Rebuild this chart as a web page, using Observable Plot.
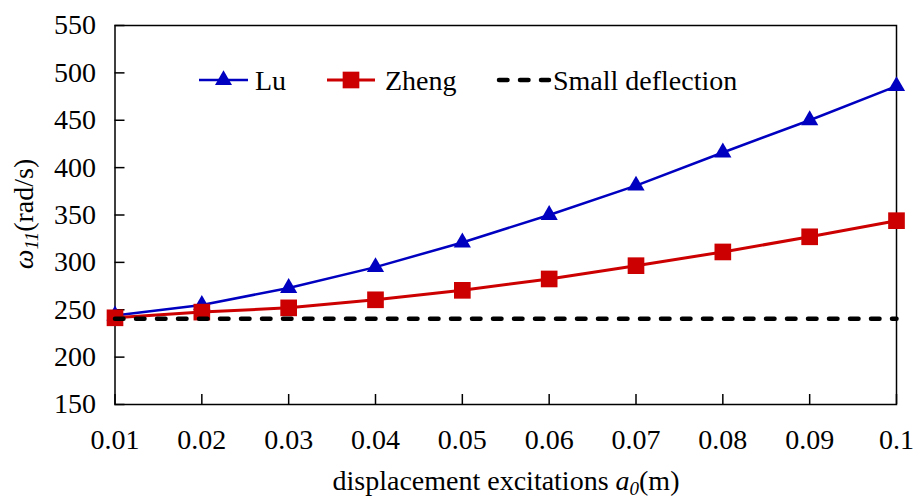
<!DOCTYPE html>
<html><head><meta charset="utf-8">
<script src="https://cdn.jsdelivr.net/npm/d3@7"></script>
<script src="https://cdn.jsdelivr.net/npm/@observablehq/plot@0.6"></script>
<style>
body{margin:0;background:#fff;}
#wrap{width:913px;height:498px;}
</style></head><body><div id="wrap"></div>
<script>
// ---- data ----
const excitations = [0.01, 0.02, 0.03, 0.04, 0.05, 0.06, 0.07, 0.08, 0.09, 0.1];
const luValues = [244, 255, 273, 295, 321, 350, 381, 416, 450, 486];
const zhengValues = [241.5, 247.5, 252, 260.5, 270.5, 282.5, 296.5, 311, 327, 344];
const smallDeflectionValue = 240.5;
const xTickLabels = ["0.01", "0.02", "0.03", "0.04", "0.05", "0.06", "0.07", "0.08", "0.09", "0.1"];
const yTicks = [150, 200, 250, 300, 350, 400, 450, 500, 550];
const seriesNames = ["Lu", "Zheng", "Small deflection"];
const seriesColors = ["#0000C0", "#CC0000", "#000000"];

const FONT = "Liberation Serif, Times New Roman, serif";
const FS = 28;

const lu = excitations.map((x, i) => ({x, y: luValues[i]}));
const zheng = excitations.map((x, i) => ({x, y: zhengValues[i]}));
const small = excitations.map(x => ({x, y: smallDeflectionValue}));

const plot = Plot.plot({
  width: 913, height: 498,
  marginLeft: 114.5, marginRight: 17, marginTop: 25, marginBottom: 94,
  style: {fontFamily: FONT, fontSize: FS + "px", color: "black", background: "white"},
  x: {domain: [0.01, 0.1]},
  y: {domain: [150, 550]},
  marks: [
    Plot.axisY(yTicks, {tickSize: 0, tickPadding: 19, label: null, fontSize: FS, fill: "black"}),
    Plot.axisY(yTicks, {tickSize: -10, tickFormat: () => "", label: null, strokeWidth: 1.5, stroke: "black"}),
    Plot.axisX(excitations, {tickSize: 0, tickPadding: 25, label: null, fontSize: FS, fill: "black",
      tickFormat: d => xTickLabels[excitations.indexOf(d)]}),
    Plot.axisX(excitations, {tickSize: -10, tickFormat: () => "", label: null, strokeWidth: 1.5, stroke: "black"}),
    Plot.frame({stroke: "black", strokeWidth: 1.5}),
    Plot.line(lu, {x: "x", y: "y", stroke: seriesColors[0], strokeWidth: 2.5}),
    Plot.dot(lu, {x: "x", y: "y", symbol: "triangle", r: 6.4, fill: seriesColors[0], stroke: "none"}),
    Plot.line(zheng, {x: "x", y: "y", stroke: seriesColors[1], strokeWidth: 3}),
    Plot.dot(zheng, {x: "x", y: "y", symbol: "square", r: 9.4, fill: seriesColors[1], stroke: "none"}),
    Plot.line(small, {x: "x", y: "y", stroke: seriesColors[2], strokeWidth: 4.5,
      strokeDasharray: "8.5,12.5", strokeLinecap: "round"})
  ]
});
document.getElementById("wrap").appendChild(plot);

const svg = d3.select(plot);

// ---- legend ----
const lg = svg.append("g").attr("font-family", FONT).attr("font-size", FS).attr("text-anchor", "start");
const legendLayout = [
  {x1: 199, x2: 248, tx: 255, sym: d3.symbolTriangle, size: 125, w: 2.5},
  {x1: 327, x2: 375, tx: 385, sym: d3.symbolSquare, size: 278, w: 3},
  {x1: 495, x2: 549, tx: 553, sym: null, w: 4.5}
];
const ly = 80, lbase = 90;
legendLayout.forEach((L, i) => {
  const ln = lg.append("line").attr("x1", L.x1).attr("x2", L.x2).attr("y1", ly).attr("y2", ly)
    .attr("stroke", seriesColors[i]).attr("stroke-width", L.w);
  if (!L.sym) ln.attr("stroke-dasharray", "8.5,12.5").attr("stroke-linecap", "round")
    .attr("x1", L.x1 + 4).attr("x2", L.x2);
  if (L.sym) lg.append("path").attr("d", d3.symbol(L.sym, L.size)())
    .attr("transform", `translate(${(L.x1 + L.x2) / 2},${ly})`).attr("fill", seriesColors[i]);
  lg.append("text").attr("x", L.tx).attr("y", lbase).attr("fill", "black").text(seriesNames[i]);
});

// ---- axis titles ----
const xt = svg.append("text").attr("x", 506).attr("y", 490).attr("text-anchor", "middle")
  .attr("font-family", FONT).attr("font-size", FS).attr("fill", "black");
xt.append("tspan").text("displacement excitations ");
xt.append("tspan").attr("font-style", "italic").text("a");
xt.append("tspan").attr("font-style", "italic").attr("font-size", 19).attr("dy", 5).text("0");
xt.append("tspan").attr("dy", -5).text("(m)");

const yt = svg.append("text").attr("transform", "translate(33,214) rotate(-90)").attr("text-anchor", "middle")
  .attr("font-family", FONT).attr("font-size", FS).attr("fill", "black");
yt.append("tspan").attr("font-style", "italic").text("ω");
yt.append("tspan").attr("font-style", "italic").attr("font-size", 19).attr("dy", 5).text("11");
yt.append("tspan").attr("dy", -5).text("(rad/s)");
</script>
</body></html>
